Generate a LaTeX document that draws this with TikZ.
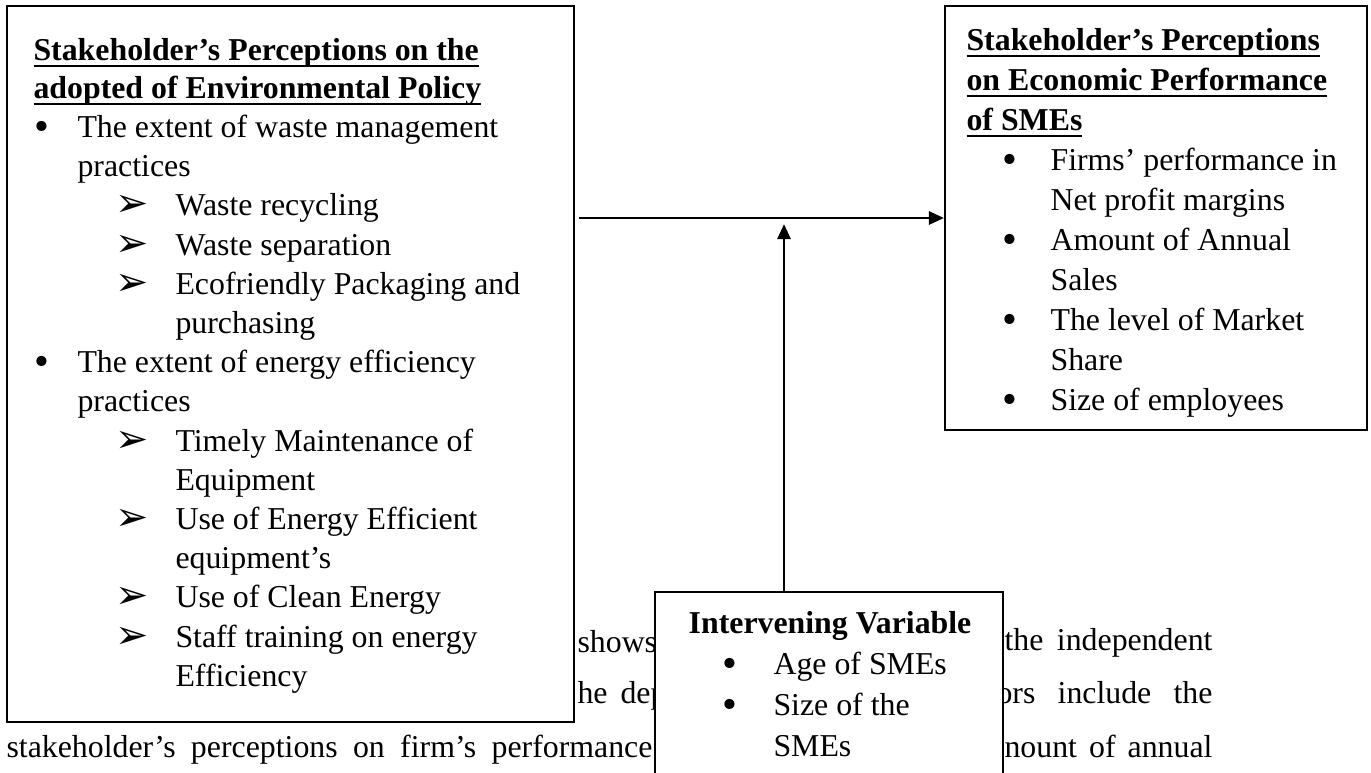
\documentclass[tikz,border=0pt]{standalone}
\usepackage{fontspec}
\setmainfont{Liberation Serif}
\newfontfamily\djv{DejaVu Sans}
\usetikzlibrary{arrows.meta,fit}
\newcommand\hul[1]{\setbox0\hbox{#1}\rlap{\rule[-2.7pt]{\wd0}{0.8pt}}\box0}
\newcommand\arrowglyph{\raisebox{-0.6pt}{\djv\fontsize{15}{16}\selectfont ➢}}
\newcommand\bigbullet{\raisebox{-1.2pt}{\fontsize{16}{16}\selectfont •}}
\begin{document}
\begin{tikzpicture}[x=0.377pt,y=-0.377pt,
  txt/.style={anchor=base west, inner sep=0pt, font=\fontsize{12}{14}\selectfont},
  hd/.style={txt, font=\fontsize{12}{14}\selectfont\bfseries},
  bul/.style={anchor=base, inner sep=0pt, font=\fontsize{12}{14}\selectfont},
  arw/.style={anchor=base west, inner sep=0pt},
  box/.style={draw, line width=0.75pt, fill=white, inner sep=0pt},
  arr/.style={line width=1.1pt, -{Triangle[length=5.7pt,width=4.9pt]}}]
\useasboundingbox (0,0) rectangle (1371,772);
% background body text
\node[txt] (bg1) at (577,652) {shows};
\node[txt] (bg2) at (1004,650) {\makebox[78.4pt][s]{the independent}};
\node[txt] (bg3) at (577,703) {he\hspace{4.9pt}dep};
\node[txt] (bg4) at (996,703) {\makebox[81.4pt][s]{ors include the}};
\node[txt] (bg5) at (6,757) {\makebox[243.5pt][s]{stakeholder’s perceptions on firm’s performance}};
\node[txt] (bg6) at (1004,757) {\makebox[78.4pt][s]{nount of annual}};
% boxes
\coordinate (L1) at (7,6); \coordinate (L2) at (574,722);
\node[box, fit=(L1)(L2)] (L) {};
\coordinate (R1) at (945,6); \coordinate (R2) at (1367,430);
\node[box, fit=(R1)(R2)] (R) {};
\coordinate (I1) at (655,592); \coordinate (I2) at (1003,800);
\node[box, fit=(I1)(I2)] (I) {};
% left box text
\node[hd] (l1) at (33,60) {\hul{Stakeholder’s Perceptions on the}};
\node[hd] (l2) at (33,98) {\hul{adopted of Environmental Policy}};
\node[bul] (lb1) at (42,137) {\bigbullet};
\node[txt] (l3) at (77,137) {The extent of waste management};
\node[txt] (l4) at (77,176) {practices};
\node[arw] (la1) at (115,215) {\arrowglyph};
\node[txt] (l5) at (175,215) {Waste recycling};
\node[arw] (la2) at (115,255) {\arrowglyph};
\node[txt] (l6) at (175,255) {Waste separation};
\node[arw] (la3) at (115,294) {\arrowglyph};
\node[txt] (l7) at (175,294) {Ecofriendly Packaging and};
\node[txt] (l8) at (175,333) {purchasing};
\node[bul] (lb2) at (42,372) {\bigbullet};
\node[txt] (l9) at (77,372) {The extent of energy efficiency};
\node[txt] (l10) at (77,411) {practices};
\node[arw] (la4) at (115,451) {\arrowglyph};
\node[txt] (l11) at (175,451) {Timely Maintenance of};
\node[txt] (l12) at (175,490) {Equipment};
\node[arw] (la5) at (115,529) {\arrowglyph};
\node[txt] (l13) at (175,529) {Use of Energy Efficient};
\node[txt] (l14) at (175,568) {equipment’s};
\node[arw] (la6) at (115,607) {\arrowglyph};
\node[txt] (l15) at (175,607) {Use of Clean Energy};
\node[arw] (la7) at (115,647) {\arrowglyph};
\node[txt] (l16) at (175,647) {Staff training on energy};
\node[txt] (l17) at (175,686) {Efficiency};
% right box text
\node[hd] (r1) at (966,50) {\hul{Stakeholder’s Perceptions}};
\node[hd] (r2) at (966,90) {\hul{on Economic Performance}};
\node[hd] (r3) at (966,130) {\hul{of SMEs}};
\node[bul] (rb1) at (1010,170) {\bigbullet};
\node[txt] (r4) at (1050,170) {Firms’ performance in};
\node[txt] (r5) at (1050,210) {Net profit margins};
\node[bul] (rb2) at (1010,250) {\bigbullet};
\node[txt] (r6) at (1050,250) {Amount of Annual};
\node[txt] (r7) at (1050,290) {Sales};
\node[bul] (rb3) at (1010,330) {\bigbullet};
\node[txt] (r8) at (1050,330) {The level of Market};
\node[txt] (r9) at (1050,370) {Share};
\node[bul] (rb4) at (1010,410) {\bigbullet};
\node[txt] (r10) at (1050,410) {Size of employees};
% intervening box text
\node[bul, font=\fontsize{12}{14}\selectfont\bfseries] (i1) at (830,633) {Intervening Variable};
\node[bul] (ib1) at (730,674) {\bigbullet};
\node[txt] (i2) at (773,674) {Age of SMEs};
\node[bul] (ib2) at (730,715) {\bigbullet};
\node[txt] (i3) at (773,715) {Size of the};
\node[txt] (i4) at (773,756) {SMEs};
% connectors
\coordinate (ha) at (579,218);
\draw[arr] (ha) -- (ha -| R.west);
\coordinate (vt) at (784,224);
\draw[arr] (I.north -| vt) -- (vt);
\end{tikzpicture}
\end{document}
